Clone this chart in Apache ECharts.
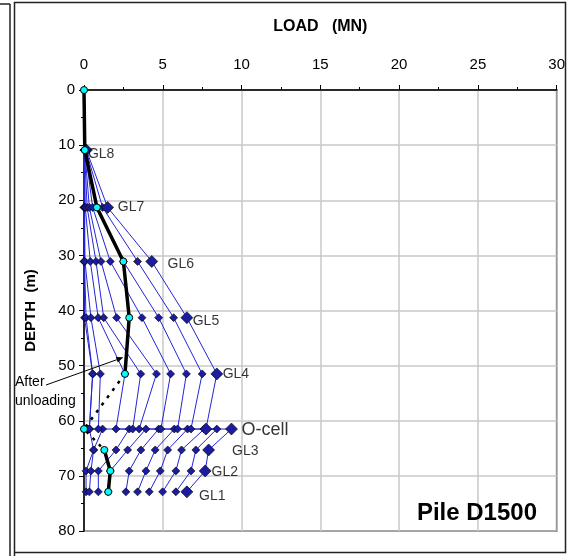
<!DOCTYPE html>
<html><head><meta charset="utf-8">
<script src="https://cdn.jsdelivr.net/npm/echarts@6/dist/echarts.min.js"></script>
<style>html,body{margin:0;padding:0;background:#fff}#c{width:568px;height:556px}</style>
</head><body><div id="c"></div>
<script>
// Depth (m) of each gauge level along a load curve (upward part, O-cell up, O-cell down, downward part)
const depths = [10.9, 21.3, 31.1, 41.3, 51.5, 61.5, 61.5, 65.3, 69.1, 72.9];
// Load (MN) per load step at GL8, GL7, GL6, GL5, GL4, O-cell(up), O-cell(down), GL3, GL2, GL1
const curve0 = [0.00, 0.00, 0.00, 0.03, 0.55, 0.34, 0.34, 0.61, 0.13, 0.13];
const curve1 = [0.00, 0.02, 0.03, 0.13, 0.55, 0.34, 1.18, 0.61, 0.44, 0.34];
const curve2 = [0.01, 0.04, 0.06, 0.44, 1.04, 0.91, 2.87, 2.03, 0.91, 0.91];
const curve3 = [0.02, 0.08, 0.40, 0.90, 2.60, 2.03, 3.93, 2.77, 1.67, 1.54];
const curve4 = [0.03, 0.20, 0.76, 1.25, 3.60, 3.09, 4.74, 3.61, 2.87, 2.66];
const curve5 = [0.05, 0.34, 1.08, 2.07, 4.60, 3.50, 5.73, 4.52, 3.93, 3.40];
const curve6 = [0.07, 0.55, 1.67, 3.68, 5.50, 4.88, 6.57, 5.31, 4.84, 4.14];
const curve7 = [0.09, 0.85, 2.50, 4.74, 6.50, 5.94, 7.63, 6.19, 5.83, 4.99];
const curve8 = [0.12, 1.18, 3.40, 5.69, 7.50, 6.79, 8.43, 7.10, 6.79, 5.83];
const curve9 = [0.15, 1.50, 4.30, 6.53, 8.43, 7.74, 9.36, 7.91, 7.69, 6.53];

// Residual load after unloading
const resUpLoad = [0, 0.05, 0.82, 2.50, 2.87, 2.60];
const resUpDepth = [0, 10.9, 21.3, 31.1, 41.3, 51.5];
const resDotLoad = [2.60, 0, 1.29];
const resDotDepth = [51.5, 61.5, 65.3];
const resLowLoad = [1.29, 1.67, 1.54];
const resLowDepth = [65.3, 69.1, 72.9];

// Gauge labels
const labelNames = ['GL8', 'GL7', 'GL6', 'GL5', 'GL4', 'O-cell', 'GL3', 'GL2', 'GL1'];
const labelLoad = [0.25, 2.15, 5.3, 6.9, 8.8, 10.0, 9.4, 8.1, 7.3];
const labelDepth = [11.6, 21.3, 31.6, 41.9, 51.6, 61.6, 65.6, 69.3, 73.6];

// Axis ticks
const xTicks = [0, 5, 10, 15, 20, 25, 30];
const yTicks = [0, 10, 20, 30, 40, 50, 60, 70, 80];

const FONT = 'Liberation Sans, Arial, sans-serif';
const curves = [curve0, curve1, curve2, curve3, curve4, curve5, curve6, curve7, curve8, curve9];

const series = curves.map((c, i) => ({
  type: 'line',
  data: c.map((v, k) => [v, depths[k]]),
  symbol: 'diamond',
  symbolSize: i === curves.length - 1 ? 12 : 8,
  showAllSymbol: true,
  lineStyle: { color: '#2424d8', width: 1 },
  itemStyle: { color: '#1c1c9e', borderColor: '#000', borderWidth: 0.6 },
  z: 2, silent: true, animation: false
}));

series.push({
  type: 'line', symbol: 'none', z: 3, silent: true, animation: false,
  data: resUpLoad.map((v, k) => [v, resUpDepth[k]]),
  lineStyle: { color: '#000', width: 3.5 }
});
series.push({
  type: 'line', symbol: 'none', z: 3, silent: true, animation: false,
  data: resDotLoad.map((v, k) => [v, resDotDepth[k]]),
  lineStyle: { color: '#000', width: 2.5, type: [3, 6] }
});
series.push({
  type: 'line', symbol: 'none', z: 3, silent: true, animation: false,
  data: resLowLoad.map((v, k) => [v, resLowDepth[k]]),
  lineStyle: { color: '#000', width: 3.5 }
});
// cyan markers
const cyanPts = resUpLoad.map((v, k) => [v, resUpDepth[k]])
  .concat([[resDotLoad[1], resDotDepth[1]]])
  .concat(resLowLoad.map((v, k) => [v, resLowDepth[k]]));
series.push({
  type: 'scatter', z: 4, silent: true, animation: false,
  data: cyanPts, symbol: 'circle', symbolSize: 7,
  itemStyle: { color: '#00ffff', borderColor: '#000', borderWidth: 1, opacity: 1 }
});
// gauge labels
const labelSeries = {
  type: 'scatter', z: 5, silent: true, animation: false, symbolSize: 0,
  data: labelNames.map((n, k) => ({ name: n, value: [labelLoad[k], labelDepth[k]] })),
  label: {
    show: true, position: 'right', distance: 0,
    formatter: p => p.name,
    fontFamily: FONT, color: '#000', fontSize: 14
  }
};
labelSeries.data[5].label = { fontSize: 18 };
series.push(labelSeries);

const chart = echarts.init(document.getElementById('c'), null, { renderer: 'canvas' });
chart.setOption({
  animation: false,
  backgroundColor: '#fff',
  textStyle: { fontFamily: FONT },
  grid: { left: 84, right: 11, top: 90, bottom: 25, show: true, borderColor: '#000', borderWidth: 1.5, backgroundColor: 'transparent' },
  xAxis: {
    type: 'value', position: 'top', min: xTicks[0], max: xTicks[xTicks.length - 1], interval: 5,
    name: 'LOAD   (MN)', nameLocation: 'middle', nameGap: 55,
    nameTextStyle: { fontFamily: FONT, fontWeight: 'bold', fontSize: 16, color: '#000' },
    axisLine: { show: true, lineStyle: { color: '#000', width: 1.5 } },
    axisTick: { show: true, inside: false, length: 5, lineStyle: { color: '#000' } },
    minorTick: { show: true, splitNumber: 2, length: 3, lineStyle: { color: '#000' } },
    axisLabel: { fontFamily: FONT, fontSize: 15, color: '#000', margin: 18 },
    splitLine: { show: true, lineStyle: { color: '#c8c8c8', width: 1.5 } }
  },
  yAxis: {
    type: 'value', inverse: true, min: yTicks[0], max: yTicks[yTicks.length - 1], interval: 10,
    name: 'DEPTH  (m)', nameLocation: 'middle', nameGap: 46, nameRotate: 90,
    nameTextStyle: { fontFamily: FONT, fontWeight: 'bold', fontSize: 15, color: '#000' },
    axisLine: { show: true, lineStyle: { color: '#000', width: 1.5 } },
    axisTick: { show: true, inside: false, length: 5, lineStyle: { color: '#000' } },
    minorTick: { show: true, splitNumber: 2, length: 3, lineStyle: { color: '#000' } },
    axisLabel: { fontFamily: FONT, fontSize: 15, color: '#000', margin: 9 },
    splitLine: { show: true, lineStyle: { color: '#c8c8c8', width: 1.5 } }
  },
  title: {
    text: 'Pile D1500', right: 31, bottom: 31, padding: 0,
    textStyle: { fontFamily: FONT, fontWeight: 'bold', fontSize: 24, color: '#000' }
  },
  series: series
});

// annotation "After unloading" with arrow pointing at residual curve
const tip = chart.convertToPixel({ gridIndex: 0 }, [2.5, 48.5]);
const start = [46, 385];
const ang = Math.atan2(tip[1] - start[1], tip[0] - start[0]);
const ah = 7, aw = 3;
const bx = tip[0] - ah * Math.cos(ang), by = tip[1] - ah * Math.sin(ang);
chart.setOption({
  graphic: [
    { type: 'line', shape: { x1: 10, y1: 4, x2: 10, y2: 556 }, style: { stroke: '#222', lineWidth: 1.5 } },
    { type: 'line', shape: { x1: 0, y1: 4, x2: 10, y2: 4 }, style: { stroke: '#222', lineWidth: 1.5 } },
    { type: 'polyline', shape: { points: [[14.5, 556], [14.5, 2.5], [565.5, 2.5], [565.5, 552.5], [14.5, 552.5]] }, style: { stroke: '#222', lineWidth: 1.5, fill: null } },
    { type: 'text', left: 15, top: 375, style: { text: 'After', fontFamily: FONT, fontSize: 14, fill: '#000' } },
    { type: 'text', left: 15, top: 394, style: { text: 'unloading', fontFamily: FONT, fontSize: 14, fill: '#000' } },
    { type: 'line', shape: { x1: start[0], y1: start[1], x2: bx, y2: by }, style: { stroke: '#000', lineWidth: 1 }, z: 10 },
    { type: 'polygon', z: 10, shape: { points: [
      [tip[0], tip[1]],
      [bx + aw * Math.sin(ang), by - aw * Math.cos(ang)],
      [bx - aw * Math.sin(ang), by + aw * Math.cos(ang)]
    ] }, style: { fill: '#000' } }
  ]
});
</script>
</body></html>
